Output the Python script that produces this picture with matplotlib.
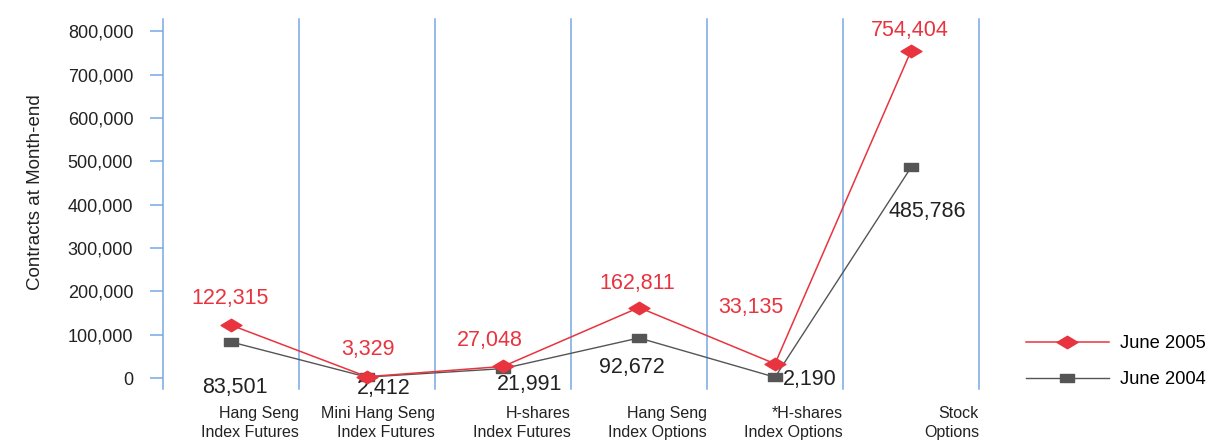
import matplotlib
matplotlib.use('Agg')
import matplotlib.pyplot as plt
from matplotlib.path import Path
import matplotlib.transforms as mtransforms

plt.rcParams['font.family'] = ['Liberation Sans', 'DejaVu Sans']

# data
categories = ['Hang Seng\nIndex Futures', 'Mini Hang Seng\nIndex Futures', 'H-shares\nIndex Futures',
              'Hang Seng\nIndex Options', '*H-shares\nIndex Options', 'Stock\nOptions']
june_2005 = [122315, 3329, 27048, 162811, 33135, 754404]
june_2004 = [83501, 2412, 21991, 92672, 2190, 485786]
yticks = [0, 100000, 200000, 300000, 400000, 500000, 600000, 700000, 800000]

red = '#e8343e'
grey = '#555555'
blue = '#78a8e6'
txt = '#222222'

# label offsets in pixels (dx, dy), dy positive = up
off_05 = [(-1, 27), (1, 27), (-13, 26), (-2, 24), (-24, 56), (-1, 20)]
off_04 = [(4, -46), (17, -11), (27, -16), (-7, -30), (35, -2), (16, -44)]

diamond = Path([(-1, 0), (0, 0.6), (1, 0), (0, -0.6), (-1, 0)],
               [Path.MOVETO, Path.LINETO, Path.LINETO, Path.LINETO, Path.CLOSEPOLY])
rect = Path([(-1, -0.6), (1, -0.6), (1, 0.6), (-1, 0.6), (-1, -0.6)],
            [Path.MOVETO, Path.LINETO, Path.LINETO, Path.LINETO, Path.CLOSEPOLY])

fig = plt.figure(figsize=(12.09, 4.42), dpi=100)
ax = fig.add_axes([163 / 1209, 1 - 389 / 442, 816 / 1209, 370 / 442])

x = list(range(len(categories)))
l05, = ax.plot(x, june_2005, color=red, lw=1.1, marker=diamond, ms=15, mec=red, mfc=red, zorder=4)
l04, = ax.plot(x, june_2004, color=grey, lw=1.0, marker=rect, ms=10, mec=grey, mfc=grey, zorder=3)

ax.set_xlim(-0.5, 5.5)
ax.set_ylim(-25000, 828000)

for b in [0.5, 1.5, 2.5, 3.5, 4.5, 5.5]:
    ax.axvline(b, color=blue, lw=1.1, clip_on=False, zorder=1)

for s in ['top', 'right', 'bottom']:
    ax.spines[s].set_visible(False)
ax.spines['left'].set_color(blue)
ax.spines['left'].set_linewidth(1.1)

ax.set_yticks(yticks)
ax.set_yticklabels([f'{v:,}' for v in yticks])
ax.tick_params(axis='y', length=9.4, width=1.1, color=blue, pad=12, labelsize=13, labelcolor=txt)
ax.set_xticks([])

ax.set_ylabel('Contracts at Month-end', fontsize=13.5, color=txt)
ax.yaxis.set_label_coords(-0.146, 0.532)

k = 0.72
for i in x:
    ax.annotate(f'{june_2005[i]:,}', (i, june_2005[i]), xytext=(off_05[i][0] * k, off_05[i][1] * k),
                textcoords='offset points', ha='center', va='center', fontsize=15.5, color=red)
    ax.annotate(f'{june_2004[i]:,}', (i, june_2004[i]), xytext=(off_04[i][0] * k, off_04[i][1] * k),
                textcoords='offset points', ha='center', va='center', fontsize=15.5, color=txt)

trans = mtransforms.blended_transform_factory(ax.transData, ax.transAxes)
for i, c in enumerate(categories):
    ax.text(i + 0.5, -0.047, c, transform=trans, ha='right', va='top', multialignment='right',
            fontsize=11.5, color=txt, linespacing=1.3)

fig.legend([l05, l04], ['June 2005', 'June 2004'], loc='upper left',
           bbox_to_anchor=(1026 / 1209, 1 - 335 / 442), frameon=False, fontsize=13.2,
           handlelength=4.5, handletextpad=0.65, labelspacing=1.05, borderpad=0, borderaxespad=0)

fig.savefig('out.png', dpi=100)
